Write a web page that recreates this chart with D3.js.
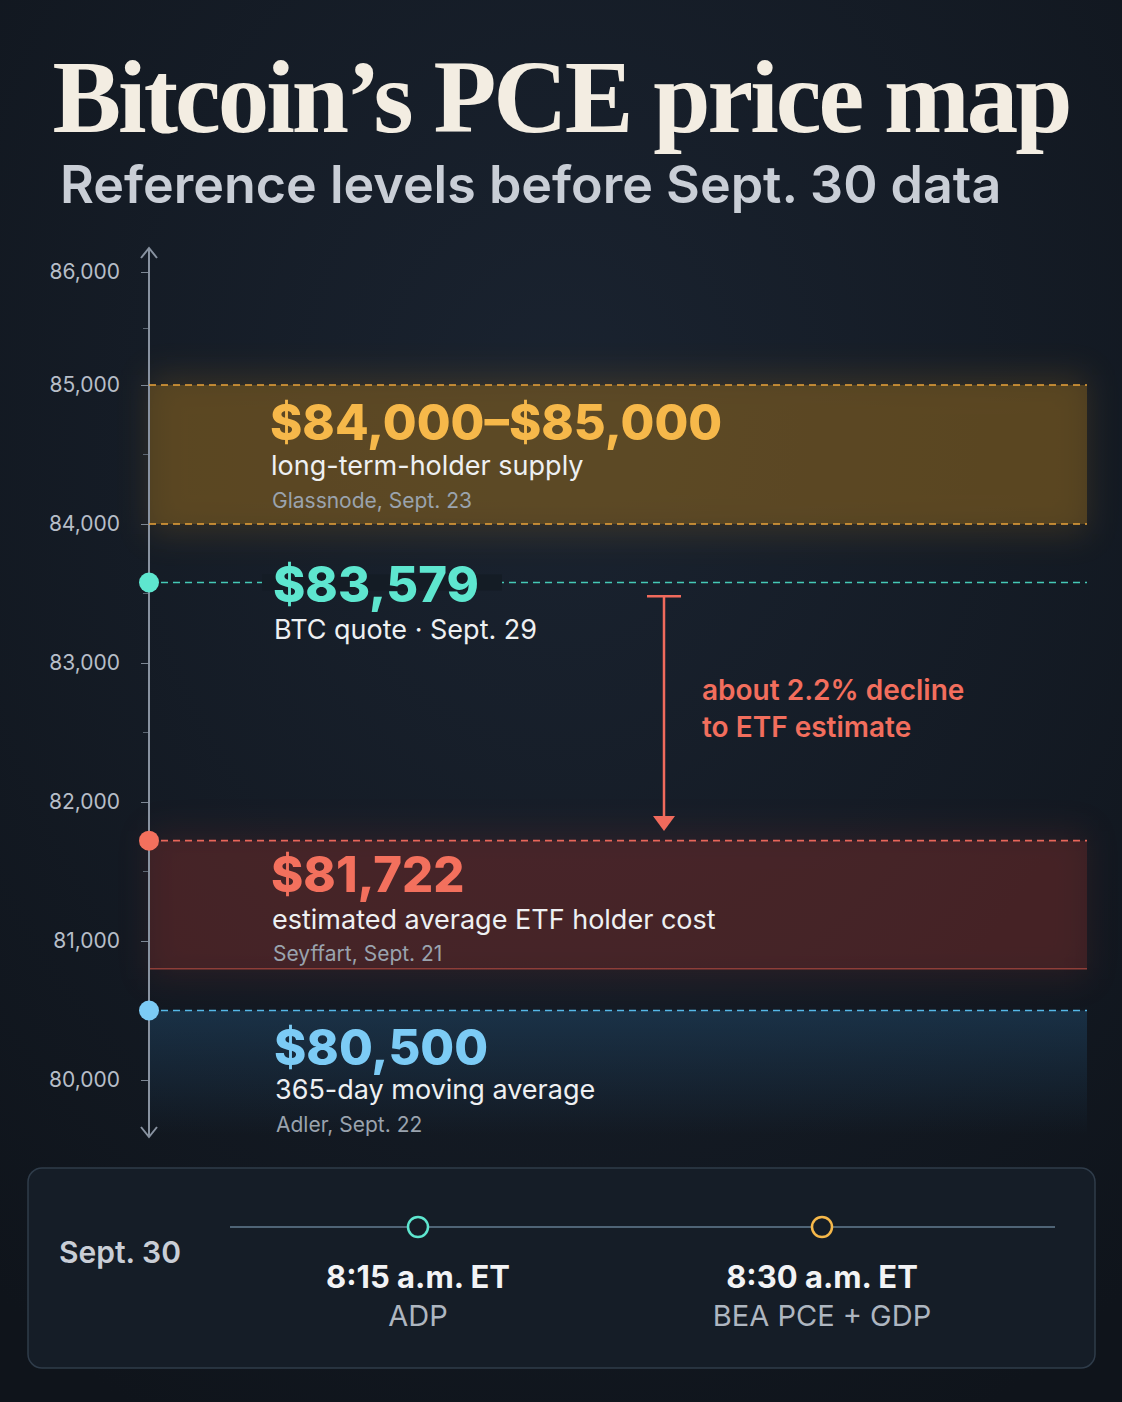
<!DOCTYPE html>
<html><head><meta charset="utf-8">
<script src="https://cdn.jsdelivr.net/npm/d3@7"></script>
<style>body{margin:0;background:#131a22}</style></head>
<body><svg id="c" width="1122" height="1402"></svg>
<script>
const ticks=[80000,81000,82000,83000,84000,85000,86000];
const tickLabels=["80,000","81,000","82,000","83,000","84,000","85,000","86,000"];
const bandLTH=[84000,85000];
const btcQuote=83579;
const etfCost=81722;
const etfBandLow=80800;
const ma365=80500;
const levelTexts=[
 {v:84500,big:"$84,000–$85,000",sub:"long-term-holder supply",src:"Glassnode, Sept. 23",col:"#f6b84a"},
 {v:btcQuote,big:"$83,579",sub:"BTC quote · Sept. 29",src:"",col:"#5ee6cf"},
 {v:etfCost,big:"$81,722",sub:"estimated average ETF holder cost",src:"Seyffart, Sept. 21",col:"#f3705d"},
 {v:ma365,big:"$80,500",sub:"365-day moving average",src:"Adler, Sept. 22",col:"#7ccbf5"}];
const events=[{t:"8:15 a.m. ET",n:"ADP",col:"#5ee6cf"},{t:"8:30 a.m. ET",n:"BEA PCE + GDP",col:"#f6b84a"}];

const svg=d3.select("#c");
const defs=svg.append("defs");
const bg=defs.append("radialGradient").attr("id","bg").attr("cx","50%").attr("cy","30%").attr("r","80%");
bg.append("stop").attr("offset","0").attr("stop-color","#1a2330");
bg.append("stop").attr("offset","1").attr("stop-color","#0f141b");
svg.append("rect").attr("width",1122).attr("height",1402).attr("fill","url(#bg)");
const blur=defs.append("filter").attr("id","bl").attr("x","-20%").attr("y","-50%").attr("width","140%").attr("height","200%");
blur.append("feGaussianBlur").attr("stdDeviation",16);
const bg2=defs.append("linearGradient").attr("id","bfade").attr("x1",0).attr("x2",0).attr("y1",0).attr("y2",1);
bg2.append("stop").attr("offset","0").attr("stop-color","#1f4463").attr("stop-opacity",0.55);
bg2.append("stop").attr("offset","1").attr("stop-color","#1f4463").attr("stop-opacity",0);

const y=d3.scaleLinear().domain([80000,85000,86000]).range([1080,385,272]);
const x0=149,x1=1087;

svg.append("text").attr("x",561).attr("y",132).attr("text-anchor","middle")
 .attr("font-family","Liberation Serif, serif").attr("font-weight","bold").attr("font-size",103)
 .attr("letter-spacing",-3).attr("fill","#f3ede2").text("Bitcoin’s PCE price map");
svg.append("text").attr("x",60).attr("y",203).attr("font-family","Inter, sans-serif").attr("font-weight",600)
 .attr("font-size",52).attr("fill","#c9ced6").text("Reference levels before Sept. 30 data");

function band(a,b,col,op){
 svg.append("rect").attr("x",x0).attr("width",x1-x0).attr("y",y(b)-10).attr("height",y(a)-y(b)+20)
  .attr("fill",col).attr("opacity",op*0.6).attr("filter","url(#bl)");
 svg.append("rect").attr("x",x0).attr("width",x1-x0).attr("y",y(b)).attr("height",y(a)-y(b))
  .attr("fill",col).attr("opacity",op);
}
band(bandLTH[0],bandLTH[1],"#8a6420",0.45);
band(etfBandLow,etfCost,"#7a2f2c",0.35);
svg.append("rect").attr("x",x0).attr("width",x1-x0).attr("y",y(ma365)).attr("height",1135-y(ma365)).attr("fill","url(#bfade)");
svg.append("line").attr("x1",x0).attr("x2",x1).attr("y1",y(etfBandLow)).attr("y2",y(etfBandLow)).attr("stroke","#8e3e38").attr("stroke-width",1.5);

const ax=svg.append("g").attr("transform",`translate(${x0},0)`)
 .call(d3.axisLeft(y).tickValues(ticks).tickFormat((d,i)=>tickLabels[i]).tickSize(8));
ax.select(".domain").remove();
ax.selectAll("line").attr("stroke","#7d8794");
ax.selectAll("text").attr("fill","#b7bec8").attr("font-family","Inter, sans-serif").attr("font-size",21).attr("x",-29);
const mids=ticks.slice(0,-1).map(t=>t+500);
svg.append("g").selectAll("line").data(mids).join("line").attr("x1",x0-6).attr("x2",x0)
 .attr("y1",d=>y(d)).attr("y2",d=>y(d)).attr("stroke","#5d6773");
svg.append("line").attr("x1",x0).attr("x2",x0).attr("y1",248).attr("y2",1136).attr("stroke","#8892a0").attr("stroke-width",2);
svg.append("path").attr("d",`M${x0-8},258L${x0},248L${x0+8},258M${x0-8},1127L${x0},1137L${x0+8},1127`).attr("fill","none").attr("stroke","#8892a0").attr("stroke-width",2);

const dashes=[[85000,"#e9a23a"],[84000,"#e9a23a"],[btcQuote,"#45c9b6"],[etfCost,"#e8665a"],[ma365,"#56b8e8"]];
svg.append("g").selectAll("line").data(dashes).join("line").attr("x1",x0).attr("x2",x1)
 .attr("y1",d=>y(d[0])).attr("y2",d=>y(d[0])).attr("stroke",d=>d[1]).attr("stroke-width",1.6).attr("stroke-dasharray","7,5");
svg.append("rect").attr("x",262).attr("y",y(btcQuote)-8).attr("width",240).attr("height",16).attr("fill","#141c25");
svg.append("g").selectAll("circle").data([[btcQuote,"#5ee6cf"],[etfCost,"#f3705d"],[ma365,"#7ccbf5"]]).join("circle")
 .attr("cx",x0).attr("cy",d=>y(d[0])).attr("r",10).attr("fill",d=>d[1]);

const xs=[270,273,271,274];
levelTexts.forEach((d,i)=>{
 const b=y(d.v);
 const ys=i==1?[b+19,b+56,0]:i==2?[b+51,b+88,b+120]:i==3?[b+54,b+88,b+121]:[440,475,508];
 svg.append("text").attr("x",xs[i]).attr("y",ys[0]).attr("font-family","Inter, sans-serif").attr("font-weight",800)
  .attr("font-size",49).attr("fill",d.col).text(d.big);
 svg.append("text").attr("x",xs[i]+1).attr("y",ys[1]).attr("font-family","Inter, sans-serif")
  .attr("font-size",27).attr("fill","#eef0f2").text(d.sub);
 if(d.src) svg.append("text").attr("x",xs[i]+2).attr("y",ys[2]).attr("font-family","Inter, sans-serif")
  .attr("font-size",21).attr("fill","#9aa3ae").text(d.src);
});

const ax2=664, yTop=y(83480), yBot=y(81720)-10;
svg.append("line").attr("x1",ax2).attr("x2",ax2).attr("y1",yTop).attr("y2",yBot-10).attr("stroke","#f06a5c").attr("stroke-width",2.5);
svg.append("line").attr("x1",ax2-17).attr("x2",ax2+17).attr("y1",yTop).attr("y2",yTop).attr("stroke","#f06a5c").attr("stroke-width",2.5);
svg.append("path").attr("d",`M${ax2-11},${yBot-15}L${ax2+11},${yBot-15}L${ax2},${yBot}Z`).attr("fill","#f06a5c");
const pct=((btcQuote-etfCost)/btcQuote*100).toFixed(1);
svg.append("text").attr("x",702).attr("y",700).attr("font-family","Inter, sans-serif").attr("font-weight",600).attr("font-size",28).attr("fill","#f26e5d")
 .selectAll("tspan").data([`about ${pct}% decline`,"to ETF estimate"]).join("tspan").attr("x",702).attr("dy",(d,i)=>i?37:0).text(d=>d);

svg.append("rect").attr("x",28).attr("y",1168).attr("width",1067).attr("height",200).attr("rx",14)
 .attr("fill","#151d27").attr("stroke","#2f3c4a").attr("stroke-width",1.5);
svg.append("text").attr("x",59).attr("y",1263).attr("font-family","Inter, sans-serif").attr("font-weight",600).attr("font-size",30).attr("fill","#c9ced6").text("Sept. 30");
const tx=d3.scalePoint().domain(events.map(e=>e.t)).range([418,822]);
svg.append("line").attr("x1",230).attr("x2",1055).attr("y1",1227).attr("y2",1227).attr("stroke","#4f6476").attr("stroke-width",2);
const ev=svg.append("g").selectAll("g").data(events).join("g").attr("transform",d=>`translate(${tx(d.t)},0)`);
ev.append("circle").attr("cy",1227).attr("r",10).attr("fill","#151d27").attr("stroke",d=>d.col).attr("stroke-width",2.5);
ev.append("text").attr("y",1288).attr("text-anchor","middle").attr("font-family","Inter, sans-serif").attr("font-weight",700).attr("font-size",31).attr("fill","#f2f3f5").text(d=>d.t);
ev.append("text").attr("y",1326).attr("text-anchor","middle").attr("font-family","Inter, sans-serif").attr("font-size",29).attr("fill","#aeb6c0").text(d=>d.n);
</script></body></html>
